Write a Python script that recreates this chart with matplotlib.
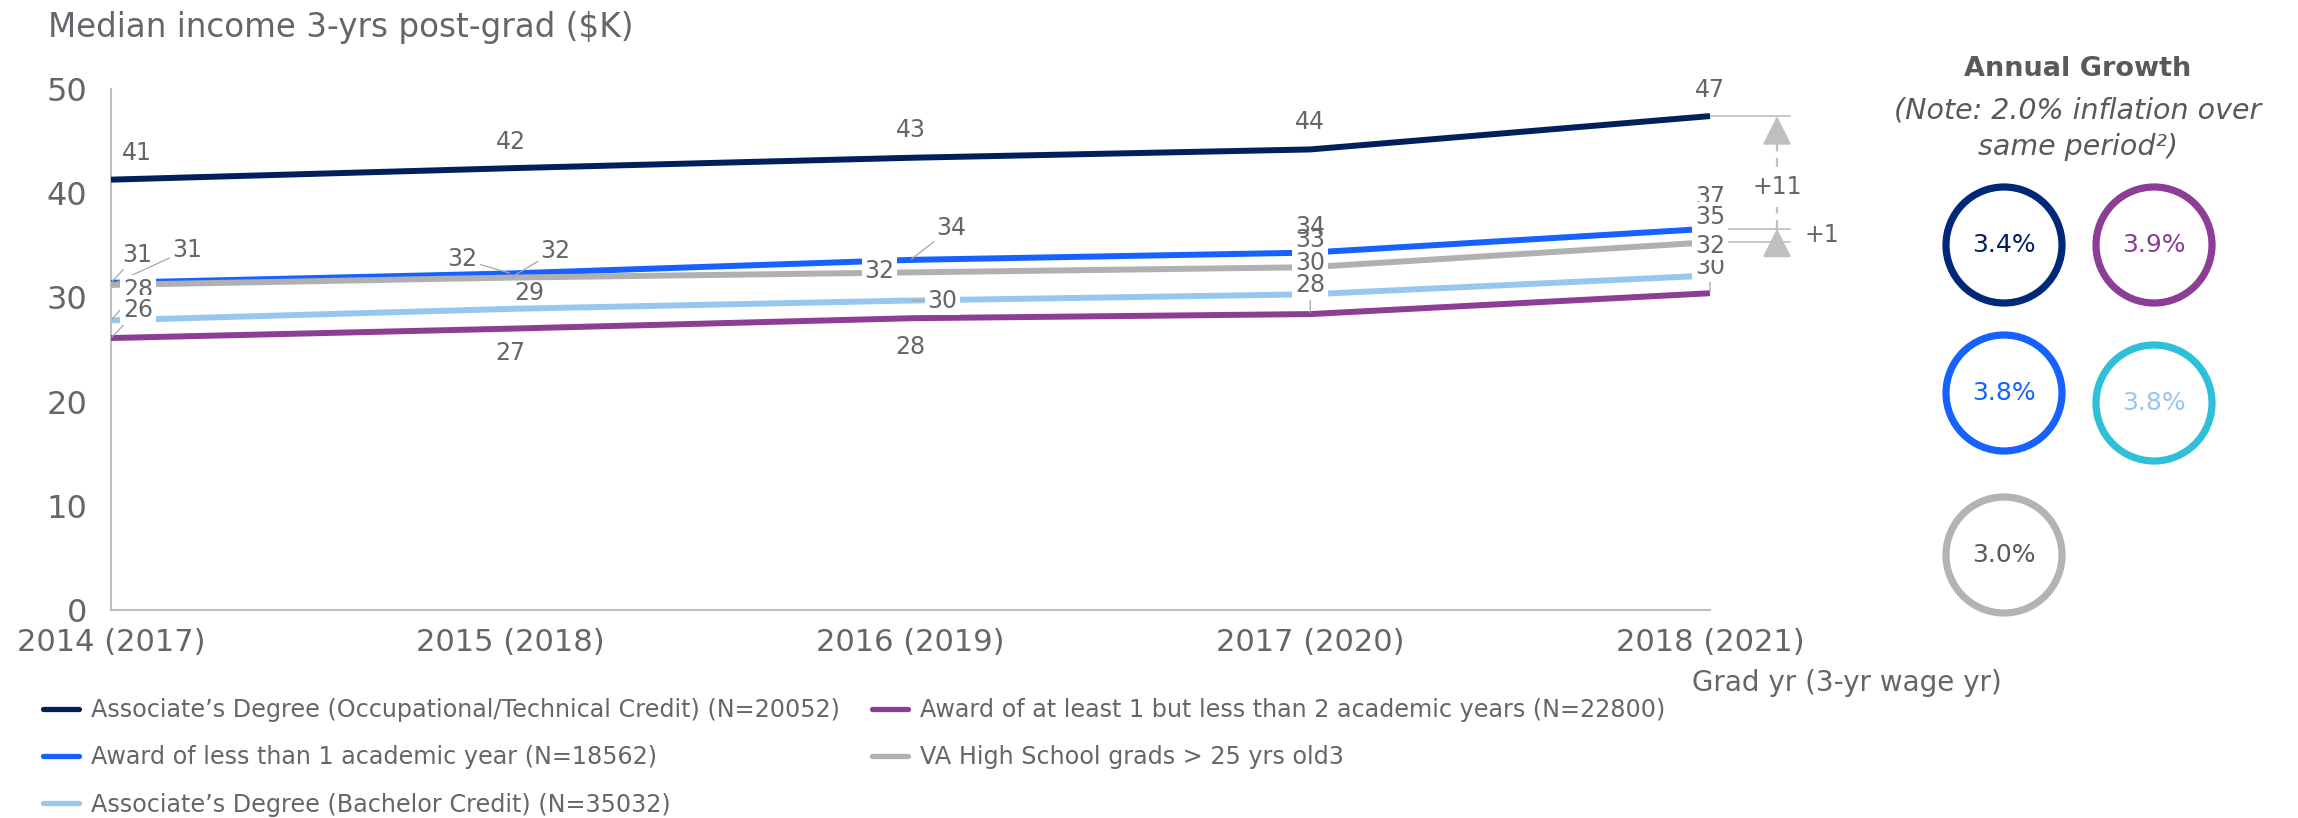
import matplotlib
matplotlib.use("Agg")
import matplotlib.pyplot as plt
from matplotlib.patches import Ellipse

# ---------------- data ----------------
categories = ["2014 (2017)", "2015 (2018)", "2016 (2019)", "2017 (2020)", "2018 (2021)"]
assoc_occ = [41.3, 42.4, 43.4, 44.2, 47.4]
award_lt1 = [31.4, 32.3, 33.6, 34.3, 36.6]
va_hs = [31.2, 31.9, 32.4, 32.9, 35.3]
assoc_bach = [27.8, 28.9, 29.7, 30.3, 32.1]
award_1to2 = [26.1, 27.0, 28.0, 28.4, 30.4]

name_occ = "Associate\u2019s Degree (Occupational/Technical Credit) (N=20052)"
name_1to2 = "Award of at least 1 but less than 2 academic years (N=22800)"
name_lt1 = "Award of less than 1 academic year (N=18562)"
name_hs = "VA High School grads > 25 yrs old3"
name_bach = "Associate\u2019s Degree (Bachelor Credit) (N=35032)"

# annual growth circles: navy, purple, blue, light blue, grey
growth_rates = [3.4, 3.9, 3.8, 3.8, 3.0]
yticks = [0, 10, 20, 30, 40, 50]

# ---------------- style ----------------
W, H = 2298, 818
TXT = "#63666A"
C_NAVY = "#001F5B"
C_BLUE = "#1562FF"
C_GREY = "#B0B0B0"
C_LBLUE = "#97C7EF"
C_PURPLE = "#8C3D95"
C_AXIS = "#BFBFBF"

plt.rcParams["font.family"] = ["DejaVu Sans"]

fig = plt.figure(figsize=(W / 100, H / 100), dpi=100)
fig.patch.set_facecolor("white")

ax_l, ax_r, ax_top, ax_bot = 111, 1710, 89, 610
ax = fig.add_axes([ax_l / W, 1 - ax_bot / H, (ax_r - ax_l) / W, (ax_bot - ax_top) / H])
x = list(range(len(categories)))

LW = 4.3
series = [
    (assoc_occ, C_NAVY, name_occ),
    (award_lt1, C_BLUE, name_lt1),
    (va_hs, C_GREY, name_hs),
    (assoc_bach, C_LBLUE, name_bach),
    (award_1to2, C_PURPLE, name_1to2),
]
handles = {}
for vals, col, nm in series:
    (ln,) = ax.plot(x, vals, color=col, lw=LW, solid_capstyle="butt",
                    solid_joinstyle="round", clip_on=False, zorder=3, label=nm)
    handles[nm] = ln

ax.set_xlim(0, len(categories) - 1)
ax.set_ylim(0, 50)
ax.set_yticks(yticks)
ax.set_yticklabels([str(t) for t in yticks])
ax.set_xticks(x)
ax.set_xticklabels(categories)
ax.tick_params(axis="y", length=0, pad=17, labelsize=23, labelcolor=TXT)
ax.tick_params(axis="x", length=0, pad=13, labelsize=22, labelcolor=TXT)
for s in ["top", "right"]:
    ax.spines[s].set_visible(False)
for s in ["left", "bottom"]:
    ax.spines[s].set_color(C_AXIS)
    ax.spines[s].set_linewidth(1.5)
ax.set_facecolor("none")

# ---------------- data labels ----------------
# per series, per point: (dx px, dy px (down positive), white box, leader, zorder)
label_layout = {
    name_occ: [(26, -27, False, False, 5), (0, -26, False, False, 5), (0, -28, False, False, 5),
               (0, -27, False, False, 5), (0, -26, False, False, 5)],
    name_lt1: [(26, -28, False, True, 5), (-48, -14, False, True, 5), (41, -32, False, True, 5),
               (0, -26, False, False, 5), (0, -32, False, False, 5)],
    name_hs: [(76, -35, False, True, 5), (45, -27, False, True, 5), (-31, -1, True, False, 6),
              (0, -27, False, False, 6), (0, -25, True, False, 6)],
    name_bach: [(27, -30, True, True, 6), (19, -16, False, False, 6), (32, 0, True, True, 6),
                (0, -31, True, False, 7), (0, -30, True, False, 8)],
    name_1to2: [(27, -28, True, True, 7), (0, 24, False, False, 7), (0, 29, False, False, 7),
                (0, -29, True, True, 8), (0, -26, True, True, 7)],
}
for vals, col, nm in series:
    for i, v in enumerate(vals):
        dx, dy, box, leader, z = label_layout[nm][i]
        kw = {}
        if box:
            kw["bbox"] = dict(boxstyle="square,pad=0.12", fc="white", ec="none")
        if leader:
            kw["arrowprops"] = dict(arrowstyle="-", color="#A6A6A6", lw=0.9,
                                    shrinkA=0, shrinkB=1)
        ax.annotate(f"{v:.0f}", xy=(i, v), xytext=(dx * 0.72, -dy * 0.72),
                    textcoords="offset points", ha="center", va="center",
                    fontsize=17, color=TXT, zorder=z, annotation_clip=False, **kw)

# ---------------- difference annotations ----------------
last = len(categories) - 1
xa = last + 67 / 399.75
xe0 = last + 19 / 399.75
xe1 = last + 80 / 399.75
top, mid, low = assoc_occ[-1], award_lt1[-1], va_hs[-1]
ax.plot([last, xe1], [top, top], color=C_AXIS, lw=1.2, clip_on=False, zorder=2)
ax.plot([xe0, xe1], [mid, mid], color=C_AXIS, lw=1.2, clip_on=False, zorder=2)
ax.plot([xe0, xe1], [low, low], color=C_AXIS, lw=1.2, clip_on=False, zorder=2)
ax.plot([xa, xa], [mid, top - 2.0], color=C_AXIS, lw=1.6, ls=(0, (4, 3)),
        clip_on=False, zorder=2)
ax.annotate("", xy=(xa, top), xytext=(xa, top - 2.6),
            arrowprops=dict(arrowstyle="-|>,head_length=0.9,head_width=0.45",
                            mutation_scale=20, color=C_AXIS, lw=1.6,
                            shrinkA=0, shrinkB=0), annotation_clip=False)
ax.annotate("", xy=(xa, mid), xytext=(xa, low - 1.0),
            arrowprops=dict(arrowstyle="-|>,head_length=0.9,head_width=0.45",
                            mutation_scale=20, color=C_AXIS, lw=1.6,
                            shrinkA=0, shrinkB=0), annotation_clip=False)
ax.text(xa, mid + 0.37 * (top - mid), f"+{top - mid:.0f}", ha="center", va="center",
        fontsize=17, color=TXT, zorder=6,
        bbox=dict(boxstyle="square,pad=0.35", fc="white", ec="none"), clip_on=False)
ax.text(last + 112 / 399.75, (mid + low) / 2, f"+{mid - low:.0f}", ha="center",
        va="center", fontsize=17, color=TXT, clip_on=False)

# ---------------- legends ----------------
fs_leg = 17.2
em = fs_leg * 100 / 72
common = dict(loc="upper left", bbox_transform=fig.transFigure, frameon=False,
              borderpad=0, borderaxespad=0, handlelength=36 / em,
              handletextpad=12 / em, labelspacing=0.98, fontsize=fs_leg,
              labelcolor=TXT)
leg1 = fig.legend(handles=[handles[name_occ], handles[name_lt1], handles[name_bach]],
                  bbox_to_anchor=(43 / W, 1 - 698 / H), **common)
leg2 = fig.legend(handles=[handles[name_1to2], handles[name_hs]],
                  bbox_to_anchor=(872 / W, 1 - 698 / H), **common)
for lg in (leg1, leg2):
    for ln in lg.get_lines():
        ln.set_solid_capstyle("round")
        ln.set_linewidth(3.8)

# ---------------- overlay (pixel coords) ----------------
ov = fig.add_axes([0, 0, 1, 1])
ov.set_xlim(0, W)
ov.set_ylim(H, 0)
ov.axis("off")

ov.text(48, 27, "Median income 3-yrs post-grad ($K)", ha="left", va="center",
        fontsize=23.5, color=TXT)
ov.text(1692, 683, "Grad yr (3-yr wage yr)", ha="left", va="center",
        fontsize=20, color=TXT)

ov.text(2078, 69, "Annual Growth", ha="center", va="center", fontsize=19.5,
        fontweight="bold", color="#595959")
ov.text(2078, 110, "(Note: 2.0% inflation over", ha="center", va="center",
        fontsize=20.5, style="italic", color="#595959")
ov.text(2078, 147, "same period\u00b2)", ha="center", va="center",
        fontsize=20.5, style="italic", color="#595959")

circle_pos = [(2004, 245), (2154, 245), (2004, 393), (2154, 403), (2004, 555)]
ring_cols = ["#002878", C_PURPLE, C_BLUE, "#2EC0D8", "#B3B3B3"]
text_cols = ["#002060", C_PURPLE, C_BLUE, C_LBLUE, "#595959"]
for (cx, cy), g, rc, tc in zip(circle_pos, growth_rates, ring_cols, text_cols):
    ov.add_patch(Ellipse((cx, cy), 116, 116, fill=False, ec=rc, lw=5.2))
    ov.text(cx, cy, f"{g:.1f}%", ha="center", va="center", fontsize=18, color=tc)

fig.savefig("out.png", dpi=100, facecolor="white")
